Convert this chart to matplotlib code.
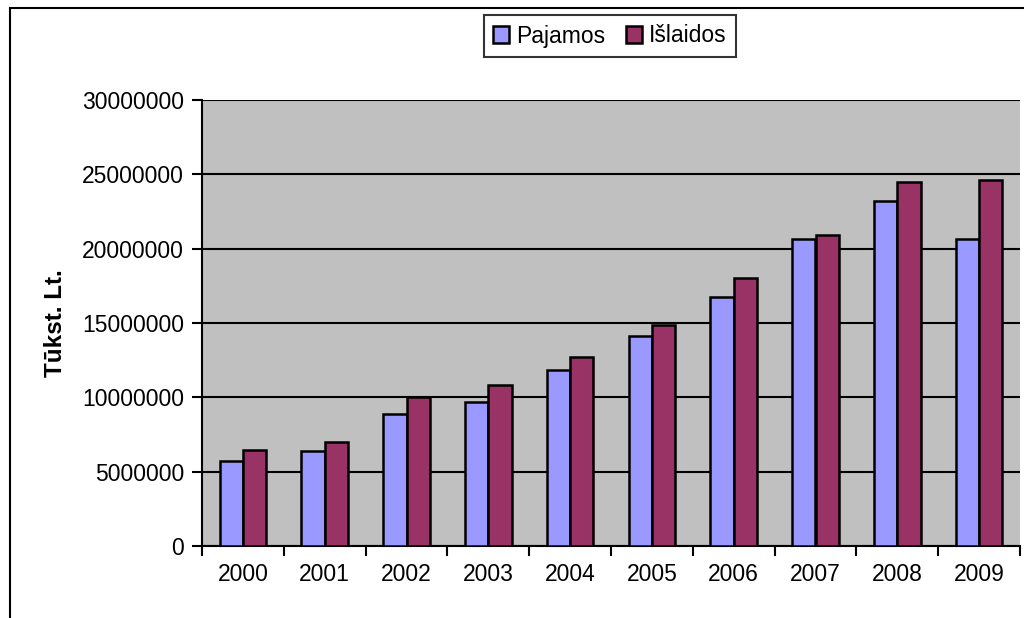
"""Pajamos ir išlaidos 2000-2009 (Excel-style column chart)."""

import matplotlib

matplotlib.use("Agg")
import matplotlib.pyplot as plt
from matplotlib.lines import Line2D
import numpy as np

YEARS = ["2000", "2001", "2002", "2003", "2004", "2005", "2006", "2007", "2008", "2009"]
PAJAMOS = [5740000, 6370000, 8900000, 9680000, 11840000, 14120000, 16780000, 20670000, 23220000, 20670000]
ISLAIDOS = [6480000, 6990000, 10000000, 10830000, 12710000, 14860000, 18050000, 20940000, 24480000, 24610000]
Y_TICKS = [0, 5000000, 10000000, 15000000, 20000000, 25000000, 30000000]

COLOR_PAJ = "#9999FF"
COLOR_ISL = "#993366"
PLOT_BG = "#C0C0C0"

plt.rcParams.update(
    {
        "font.family": ["Liberation Sans", "DejaVu Sans"],
        "font.size": 16.5,
    }
)

fig = plt.figure(figsize=(10.24, 6.18), dpi=100)
ax = fig.add_axes([202 / 1024, 1 - 546 / 618, 818 / 1024, 446 / 618])
ax.set_facecolor(PLOT_BG)

x = np.arange(len(YEARS))
width = 1 / 3.5
ax.bar(x - width / 2, PAJAMOS, width, color=COLOR_PAJ, edgecolor="black",
       linewidth=1.8, label="Pajamos", zorder=3)
ax.bar(x + width / 2, ISLAIDOS, width, color=COLOR_ISL, edgecolor="black",
       linewidth=1.8, label="Išlaidos", zorder=3)

ax.set_xlim(-0.5, len(YEARS) - 0.5)
ax.set_ylim(0, 30000000)
ax.set_yticks(Y_TICKS)
ax.set_yticklabels([str(v) for v in Y_TICKS])
ax.yaxis.grid(True, color="black", linewidth=1.5, zorder=1)
ax.set_axisbelow(True)

# category labels centred, ticks between categories
ax.set_xticks(np.arange(-0.5, len(YEARS)), minor=False)
ax.set_xticklabels([])
ax.set_xticks(x, minor=True)
ax.set_xticklabels(YEARS, minor=True)
ax.tick_params(axis="x", which="minor", length=0, pad=12)
ax.tick_params(axis="x", which="major", length=7, width=1.5, direction="out")
ax.tick_params(axis="y", length=7, width=1.5, direction="out", pad=6)

for side in ["top", "right"]:
    ax.spines[side].set_visible(False)
for side in ["left", "bottom"]:
    ax.spines[side].set_linewidth(1.5)

ax.set_ylabel("Tūkst. Lt.", fontweight="bold", fontsize=17.5, labelpad=11)

leg = fig.legend(
    loc="center",
    bbox_to_anchor=(610 / 1024, 1 - 36 / 618),
    ncol=2,
    frameon=True,
    fancybox=False,
    edgecolor="black",
    handlelength=0.7,
    handleheight=0.7,
    handletextpad=0.3,
    columnspacing=0.9,
    borderpad=0.4,
)
leg.get_frame().set_linewidth(1.5)

# outer chart border (left and top visible)
fig.add_artist(Line2D([10 / 1024, 10 / 1024], [0, 1 - 8 / 618], color="black",
                      linewidth=1.5, transform=fig.transFigure))
fig.add_artist(Line2D([10 / 1024, 1], [1 - 8 / 618, 1 - 8 / 618], color="black",
                      linewidth=1.5, transform=fig.transFigure))

fig.savefig("out.png", dpi=100)
